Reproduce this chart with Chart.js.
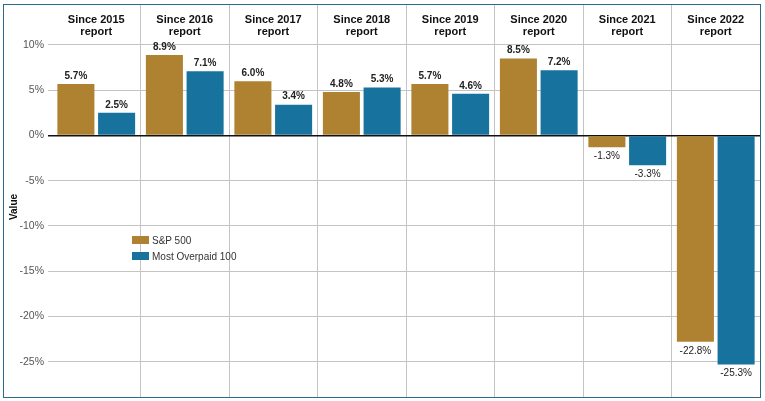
<!DOCTYPE html>
<html>
<head>
<meta charset="utf-8">
<script src="https://cdn.jsdelivr.net/npm/chart.js@4.4.0/dist/chart.umd.min.js"></script>
<style>
html, body { margin: 0; padding: 0; background: #fff; }
#wrap { position: relative; width: 765px; height: 401px; }
#frame { position: absolute; left: 3px; top: 4px; width: 758px; height: 394px; box-sizing: border-box;
         border: 1.5px solid #2a6a8a; pointer-events: none; }
#legend { position: absolute; left: 132px; top: 232px; font: 10px "Liberation Sans", Arial, sans-serif; color: #333; }
.item { display: flex; align-items: center; height: 16px; }
.box { width: 17px; height: 8px; margin-right: 3px; }
</style>
</head>
<body>
<div id="wrap">
  <canvas id="chart" width="765" height="401"></canvas>
  <div id="legend"></div>
  <div id="frame"></div>
</div>
<script>
const categories = [
  ["Since 2015", "report"], ["Since 2016", "report"], ["Since 2017", "report"], ["Since 2018", "report"],
  ["Since 2019", "report"], ["Since 2020", "report"], ["Since 2021", "report"], ["Since 2022", "report"]
];
const sp500 = [5.7, 8.9, 6.0, 4.8, 5.7, 8.5, -1.3, -22.8];
const overpaid = [2.5, 7.1, 3.4, 5.3, 4.6, 7.2, -3.3, -25.3];
const seriesNames = ["S&P 500", "Most Overpaid 100"];
const colors = ["#ae8230", "#18729e"];

const FONT = '"Liberation Sans", Arial, sans-serif';

// value labels above positive bars (bold), below negative bars
const valueLabels = {
  id: 'valueLabels',
  afterDatasetsDraw(chart) {
    const ctx = chart.ctx;
    chart.data.datasets.forEach((ds, di) => {
      chart.getDatasetMeta(di).data.forEach((bar, i) => {
        const v = ds.data[i];
        const txt = v.toFixed(1) + '%';
        ctx.save();
        ctx.fillStyle = '#222';
        ctx.textAlign = 'center';
        if (v >= 0) {
          ctx.font = 'bold 10px ' + FONT;
          ctx.textBaseline = 'bottom';
          ctx.fillText(txt, bar.x, bar.y - 3);
        } else {
          ctx.font = '10px ' + FONT;
          ctx.textBaseline = 'top';
          ctx.fillText(txt, bar.x, bar.y + 4);
        }
        ctx.restore();
      });
    });
  }
};

new Chart(document.getElementById('chart'), {
  type: 'bar',
  data: {
    labels: categories,
    datasets: [
      { label: seriesNames[0], data: sp500, backgroundColor: colors[0] },
      { label: seriesNames[1], data: overpaid, backgroundColor: colors[1] }
    ]
  },
  options: {
    responsive: false,
    animation: false,
    devicePixelRatio: 1,
    categoryPercentage: 0.92,
    barPercentage: 0.91,
    layout: { padding: { left: 0, right: 5, top: 0, bottom: 4 } },
    plugins: {
      legend: { display: false },
      tooltip: { enabled: false }
    },
    scales: {
      x: {
        position: 'top',
        afterFit(scale) { scale.height = 42; scale.paddingLeft = 0; scale.paddingRight = 0; },
        border: { display: false },
        grid: {
          offset: true,
          tickLength: 38,
          color: (c) => c.index === 0 ? 'rgba(0,0,0,0)' : '#c4c4c4',
          lineWidth: 1
        },
        ticks: {
          padding: -34,
          color: '#111',
          font: { family: FONT, size: 11, weight: 'bold', lineHeight: 1.1 },
          maxRotation: 0
        }
      },
      y: {
        min: -28.9,
        max: 10.33,
        afterFit(scale) { scale.width = 52; scale.paddingTop = 0; scale.paddingBottom = 0; },
        border: { display: false },
        grid: {
          tickLength: 4,
          color: (c) => c.tick && c.tick.value === 0 ? '#111' : '#c4c4c4',
          lineWidth: (c) => c.tick && c.tick.value === 0 ? 1.5 : 1
        },
        ticks: {
          stepSize: 5,
          includeBounds: false,
          padding: 4,
          color: '#555',
          font: { family: FONT, size: 10.5 },
          callback: (v) => v + '%'
        },
        title: {
          display: true,
          text: '         Value',
          color: '#111',
          font: { family: FONT, size: 10, weight: 'bold' },
          padding: { top: 8, bottom: 0 }
        }
      }
    }
  },
  plugins: [valueLabels]
});

const legend = document.getElementById('legend');
seriesNames.forEach((name, i) => {
  const item = document.createElement('div');
  item.className = 'item';
  const box = document.createElement('span');
  box.className = 'box';
  box.style.background = colors[i];
  const label = document.createElement('span');
  label.textContent = name;
  item.appendChild(box);
  item.appendChild(label);
  legend.appendChild(item);
});
</script>
</body>
</html>
